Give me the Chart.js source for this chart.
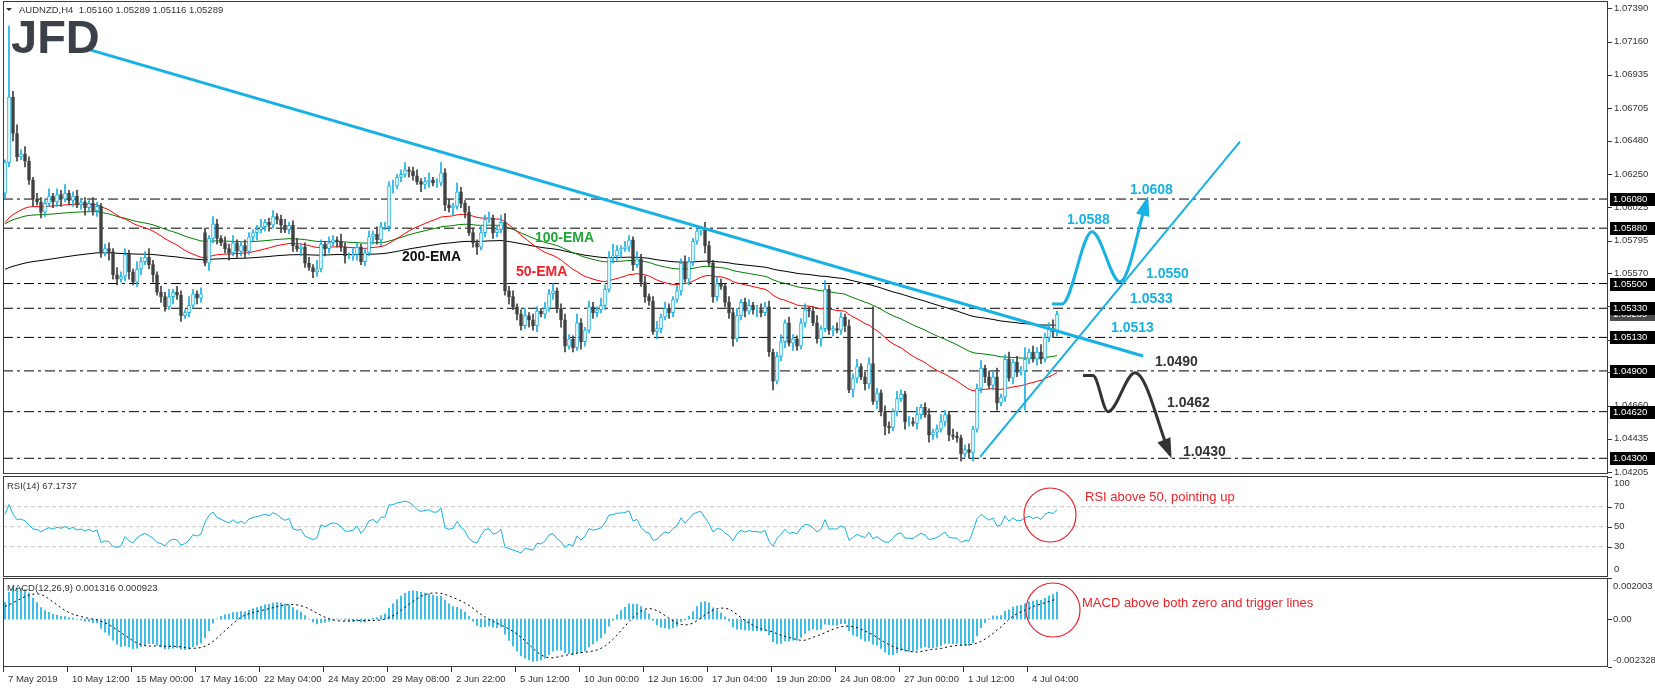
<!DOCTYPE html>
<html><head><meta charset="utf-8">
<script src="https://cdn.jsdelivr.net/npm/chart.js@4/dist/chart.umd.min.js"></script>
<style>
html,body{margin:0;padding:0;background:#fff;width:1655px;height:688px;overflow:hidden}
canvas{position:absolute;left:0}
</style></head><body>
<canvas id="c1" width="1655" height="475" style="top:0"></canvas>
<canvas id="c2" width="1655" height="102" style="top:475px"></canvas>
<canvas id="c3" width="1655" height="111" style="top:577px"></canvas>
<script>
// ---------- DATA ----------
const firstOpen = 1.0612;
const gapOpens = {50: 1.0585};
const closes = [
1.0633,1.0678,1.0653,1.0637,1.0639,1.0634,1.0621,1.0608,1.0606,1.0599,
1.0605,1.0610,1.0606,1.0611,1.0608,1.0612,1.0607,1.0610,1.0604,1.0606,
1.0602,1.0605,1.0600,1.0603,1.0571,1.0574,1.0572,1.0556,1.0553,1.0555,
1.0570,1.0558,1.0551,1.0560,1.0565,1.0568,1.0563,1.0556,1.0544,1.0541,
1.0534,1.0541,1.0544,1.0542,1.0528,1.0530,1.0535,1.0543,1.0540,1.0543,
1.0564,1.0581,1.0591,1.0581,1.0578,1.0574,1.0571,1.0578,1.0572,1.0576,
1.0572,1.0582,1.0585,1.0587,1.0589,1.0592,1.0590,1.0596,1.0594,1.0590,
1.0587,1.0590,1.0576,1.0574,1.0575,1.0564,1.0561,1.0558,1.0560,1.0577,
1.0574,1.0578,1.0580,1.0579,1.0575,1.0569,1.0569,1.0570,1.0575,1.0565,
1.0571,1.0582,1.0584,1.0580,1.0589,1.0589,1.0617,1.0617,1.0623,1.0625,
1.0628,1.0627,1.0624,1.0620,1.0618,1.0620,1.0621,1.0619,1.0619,1.0626,
1.0604,1.0602,1.0603,1.0613,1.0605,1.0599,1.0585,1.0578,1.0575,1.0585,
1.0594,1.0595,1.0585,1.0587,1.0592,1.0545,1.0541,1.0534,1.0529,1.0521,
1.0528,1.0525,1.0521,1.0531,1.0529,1.0533,1.0543,1.0545,1.0533,1.0525,
1.0507,1.0512,1.0506,1.0523,1.0510,1.0518,1.0534,1.0530,1.0532,1.0535,
1.0546,1.0568,1.0569,1.0573,1.0574,1.0575,1.0580,1.0563,1.0567,1.0551,
1.0541,1.0538,1.0517,1.0519,1.0527,1.0533,1.0530,1.0539,1.0545,1.0564,
1.0553,1.0565,1.0579,1.0586,1.0588,1.0576,1.0564,1.0541,1.0550,1.0548,
1.0537,1.0530,1.0512,1.0528,1.0537,1.0531,1.0535,1.0532,1.0532,1.0530,
1.0534,1.0503,1.0483,1.0500,1.0510,1.0523,1.0509,1.0512,1.0507,1.0523,
1.0532,1.0531,1.0523,1.0512,1.0519,1.0546,1.0518,1.0519,1.0518,1.0527,
1.0521,1.0477,1.0485,1.0493,1.0486,1.0481,1.0495,1.0469,1.0475,1.0462,
1.0452,1.0451,1.0462,1.0471,1.0474,1.0455,1.0455,1.0454,1.0460,1.0465,
1.0460,1.0446,1.0448,1.0450,1.0455,1.0460,1.0446,1.0445,1.0444,1.0433,
1.0436,1.0434,1.0450,1.0478,1.0492,1.0486,1.0480,1.0486,1.0468,1.0472,
1.0498,1.0485,1.0496,1.0489,1.0490,1.0498,1.0503,1.0498,1.0503,1.0498,
1.0513,1.0519,1.0517,1.05289];
const upWickPips = [
2,49,4,6,3,5,3,2,4,3, 3,5,2,4,3,6,2,3,4,2, 3,2,4,3,2,3,4,2,5,3, 4,3,2,5,3,4,6,3,2,4,
3,5,2,4,3,2,6,3,2,4, 3,2,5,3,2,4,3,5,2,3, 4,3,2,3,5,2,3,4,2,3, 4,2,3,5,2,3,4,2,6,3,
2,4,3,2,5,3,2,4,3,2, 3,4,2,5,3,3,3,4,2,3, 5,2,3,4,2,3,5,2,3,7, 3,4,2,6,3,2,4,3,2,5,
3,4,2,3,5,6,3,4,2,3, 5,2,4,3,2,4,3,5,2,3, 4,3,2,6,3,2,4,3,2,5, 3,4,8,3,2,4,3,2,5,3,
4,2,3,5,2,4,3,2,4,3, 5,3,2,3,1,4,3,2,5,3, 2,4,3,5,2,3,4,2,3,4, 3,4,2,3,5,2,4,3,2,3,
4,2,3,5,2,6,3,2,4,3, 2,4,3,5,2,3,4,39,3,2, 4,3,2,5,3,2,4,3,5,2, 3,4,2,3,5,3,2,4,3,2,
3,4,2,3,5,2,4,3,6,2, 3,5,2,4,3,8,2,4,3,5, 3,4,6,2];
const dnWickPips = [
4,3,5,3,2,4,3,5,2,4, 3,2,4,3,5,2,3,4,2,3, 5,2,3,4,3,2,6,3,4,2, 3,5,2,3,4,2,3,5,2,4,
3,2,5,3,4,2,3,2,4,3, 2,5,3,4,2,3,5,2,4,3, 4,2,3,5,2,3,4,2,3,5, 2,3,4,2,5,3,2,4,3,2,
5,3,2,4,3,5,2,3,4,2, 3,2,5,3,4,2,3,5,2,3, 2,4,3,2,5,3,4,2,3,2, 4,3,5,2,3,4,2,3,5,2,
3,2,4,3,2,3,5,2,4,3, 2,5,3,4,2,3,2,4,3,5, 4,2,3,2,5,3,2,4,3,2, 3,2,4,3,5,2,3,4,2,3,
4,3,2,5,3,2,4,3,2,3, 2,4,3,2,3,5,2,4,3,2, 3,4,5,2,3,4,2,3,5,3, 2,3,6,2,3,4,2,5,3,2,
3,4,2,3,5,2,3,4,2,3, 4,2,5,3,2,4,3,2,5,3, 6,4,2,3,2,5,3,2,4,3, 2,5,3,4,2,3,4,2,3,5,
2,4,6,2,3,4,2,3,5,2, 3,2,4,3,2,27,3,2,4,3, 2,3,4,3];
const dateLabels = ['7 May 2019','10 May 12:00','15 May 00:00','17 May 16:00','22 May 04:00','24 May 20:00','29 May 08:00','2 Jun 22:00','5 Jun 12:00','10 Jun 00:00','12 Jun 16:00','17 Jun 04:00','19 Jun 20:00','24 Jun 08:00','27 Jun 00:00','1 Jul 12:00','4 Jul 04:00'];
const dateLabelBars = [0,16,32,48,64,80,96,112,128,144,160,176,192,208,224,240,256];
const priceTicks = ['1.07390','1.07160','1.06935','1.06705','1.06480','1.06250','1.06025','1.05795','1.05570','1.05345','1.05115','1.04890','1.04660','1.04435','1.04205'];
const levels = [1.0608,1.0588,1.0550,1.0533,1.0513,1.0490,1.0462,1.0430];
const levelLabels = ['1.06080','1.05880','1.05500','1.05330','1.05130','1.04900','1.04620','1.04300'];
const lastPrice = 1.05289;
const rsiTicks = [100,70,50,30,0];
const macdTicks = ['0.002003','0.00','-0.002328'];
const macdTickValues = [0.002003,0,-0.002328];
// indicator seeds (history before the visible window)
const emaSeeds = {ema50:1.0590, ema100:1.0590, ema200:1.0559};
const rsiSeed = {gain:0.0005, loss:0.0004};
const macdSeed = {fast:1.0602, slow:1.0596, macd:0.0006};
// drawn analysis lines (bar index, price)
const downTrendX = [21.25, 284.5], downTrendY = [1.07104, 1.05002];
const upTrendX = [243.75, 308.75], upTrendY = [1.04310, 1.06474];
const bullPathX = [261.75,264.25,271.75,278.75,285.5], bullPathY = [1.05360,1.05360,1.05855,1.05512,1.06075];
const bearPathX = [269.5,272,275.75,282.5,291.25], bearPathY = [1.04868,1.04868,1.04620,1.04888,1.04325];

// ---------- DERIVED ----------
const N = closes.length;
const opens = closes.map((c,i)=> gapOpens[i]!==undefined ? gapOpens[i] : (i===0?firstOpen:closes[i-1]));
const highs = closes.map((c,i)=>Math.max(c,opens[i])+upWickPips[i]*0.0001);
const lows = closes.map((c,i)=>Math.min(c,opens[i])-dnWickPips[i]*0.0001);
function ema(vals,p,seed){const k=2/(p+1);let e=seed;return vals.map(v=>e=e+(v-e)*k);}
const e50=ema(closes,50,emaSeeds.ema50), e100=ema(closes,100,emaSeeds.ema100), e200=ema(closes,200,emaSeeds.ema200);
let ag=rsiSeed.gain, al=rsiSeed.loss, pv=firstOpen;
const rsi = closes.map(c=>{const d=c-pv;pv=c;ag=(ag*13+Math.max(d,0))/14;al=(al*13+Math.max(-d,0))/14;return 100-100/(1+ag/al);});
const ef=ema(closes,12,macdSeed.fast), es=ema(closes,26,macdSeed.slow);
const macd = ef.map((v,i)=>v-es[i]);
const hist=[...Array(8).fill(macdSeed.macd)];
const signal = macd.map(m=>{hist.push(m);const s=hist.slice(-9);return s.reduce((a,b)=>a+b,0)/9;});

const BLUE='#17b1e3', BEAR='#404040';
const XMIN=-0.5, XMAX=400.75;
const xs = {type:'linear',min:XMIN,max:XMAX,display:false,offset:false,bounds:'ticks'};
const pts=(ys)=>ys.map((y,i)=>({x:i,y}));
const pair=(X,Y)=>X.map((x,i)=>({x,y:Y[i]}));
const font=(s,b)=>(b?'bold ':'')+s+'px "Liberation Sans", Arial, sans-serif';

function frame(ctx,a){ctx.save();ctx.strokeStyle='#3a3a3a';ctx.lineWidth=1;ctx.strokeRect(Math.round(a.left)+0.5,Math.round(a.top)+0.5,Math.round(a.right-a.left)-1,Math.round(a.bottom-a.top)-1);ctx.restore();}
function axisLabel(ctx,a,y,txt){ctx.fillStyle='#333';ctx.fillRect(a.right,Math.round(y),4,1);ctx.font=font(9.5);ctx.textBaseline='middle';ctx.textAlign='left';ctx.fillText(txt,a.right+6,y);}
function arrow(ctx,x1,y1,x2,y2,color){const ang=Math.atan2(y2-y1,x2-x1),L=16,W=7;ctx.save();ctx.fillStyle=color;ctx.beginPath();ctx.moveTo(x2+Math.cos(ang)*4,y2+Math.sin(ang)*4);ctx.lineTo(x2-L*Math.cos(ang)+W*Math.sin(ang),y2-L*Math.sin(ang)-W*Math.cos(ang));ctx.lineTo(x2-L*Math.cos(ang)-W*Math.sin(ang),y2-L*Math.sin(ang)+W*Math.cos(ang));ctx.closePath();ctx.fill();ctx.restore();}

const common = {animation:false,responsive:false,devicePixelRatio:1,events:[],
  plugins:{legend:{display:false},tooltip:{enabled:false}}};

// ---------- MAIN PRICE CHART ----------
const levelSets = levels.map(l=>({type:'line',data:[{x:XMIN,y:l},{x:XMAX,y:l}],borderColor:'#000',borderWidth:1,borderDash:[10,4,3,4],pointRadius:0,order:5}));
new Chart(document.getElementById('c1'),{
  data:{datasets:[
    {type:'line',data:pair(downTrendX,downTrendY),borderColor:BLUE,borderWidth:3,pointRadius:0,order:0},
    {type:'line',data:pair(upTrendX,upTrendY),borderColor:BLUE,borderWidth:2,pointRadius:0,order:0},
    {type:'line',data:pair(bullPathX,bullPathY),borderColor:BLUE,borderWidth:3,pointRadius:0,cubicInterpolationMode:'monotone',order:0},
    {type:'line',data:pair(bearPathX,bearPathY),borderColor:'#333',borderWidth:3,pointRadius:0,cubicInterpolationMode:'monotone',order:0},
    {type:'bar',data:closes.map((c,i)=>({x:i,y:[opens[i],c]})),grouped:false,barThickness:3,borderSkipped:false,borderWidth:1,
      backgroundColor:closes.map((c,i)=>c>=opens[i]?'#fff':BEAR),borderColor:closes.map((c,i)=>c>=opens[i]?BLUE:BEAR),order:1},
    {type:'bar',data:closes.map((c,i)=>({x:i,y:[lows[i],highs[i]]})),grouped:false,barThickness:1,borderWidth:0,
      backgroundColor:closes.map((c,i)=>c>=opens[i]?BLUE:BEAR),order:2},
    {type:'line',data:pts(e50),borderColor:'#ff0000',borderWidth:1,pointRadius:0,order:3},
    {type:'line',data:pts(e100),borderColor:'#008000',borderWidth:1,pointRadius:0,order:3},
    {type:'line',data:pts(e200),borderColor:'#000',borderWidth:1,pointRadius:0,order:3},
    ...levelSets
  ]},
  options:{...common,layout:{padding:{left:3,right:47,top:1,bottom:1}},
    scales:{x:xs,y:{type:'linear',min:1.04192,max:1.07440,display:false}}},
  plugins:[{id:'main',afterDraw(ch){
    const ctx=ch.ctx,a=ch.chartArea,y=ch.scales.y,x=ch.scales.x;
    frame(ctx,a);
    ctx.save();
    priceTicks.forEach(t=>axisLabel(ctx,a,y.getPixelForValue(+t),t));
    ctx.font=font(9.5);ctx.textBaseline='middle';
    const box=(v,t,c)=>{const py=Math.round(y.getPixelForValue(v));ctx.fillStyle=c;ctx.fillRect(a.right+2,py-6,45,13);ctx.fillStyle='#fff';ctx.fillText(t,a.right+5,py+0.5);};
    box(lastPrice,lastPrice.toFixed(5),'#4a4a4a');
    levels.forEach((l,i)=>box(l,levelLabels[i],'#000'));
    ctx.fillStyle='#333';ctx.font=font(9.5);ctx.textAlign='left';
    ctx.beginPath();ctx.moveTo(6,8);ctx.lineTo(12,8);ctx.lineTo(9,11);ctx.closePath();ctx.fill();
    ctx.fillText('AUDNZD,H4  1.05160 1.05289 1.05116 1.05289',19,10.5);
    ctx.fillStyle='#3b4049';ctx.font=font(47,true);ctx.textBaseline='alphabetic';ctx.fillText('JFD',11,53);
    ctx.font=font(14,true);ctx.textBaseline='middle';
    ctx.fillStyle='#1fa637';ctx.fillText('100-EMA',535,238);
    ctx.fillStyle='#f0202a';ctx.fillText('50-EMA',516,272);
    ctx.fillStyle='#111';ctx.fillText('200-EMA',402,257);
    ctx.font=font(14,true);
    ctx.fillStyle=BLUE;
    [['1.0608',1130,190],['1.0588',1067,220],['1.0550',1146,274],['1.0533',1130,299],['1.0513',1111,328]].forEach(t=>ctx.fillText(t[0],t[1],t[2]));
    ctx.fillStyle='#333';
    [['1.0490',1155,362],['1.0462',1167,403],['1.0430',1183,452]].forEach(t=>ctx.fillText(t[0],t[1],t[2]));
    const P=(X,Y,i)=>[x.getPixelForValue(X[i]),y.getPixelForValue(Y[i])];
    const b1=P(bullPathX,bullPathY,4);
    arrow(ctx,b1[0]-6,b1[1]+22,b1[0],b1[1],BLUE);
    const k1=P(bearPathX,bearPathY,4);
    arrow(ctx,k1[0]-9,k1[1]-22,k1[0],k1[1],'#333');
    ctx.restore();
  }}]
});

// ---------- RSI ----------
new Chart(document.getElementById('c2'),{
  data:{datasets:[
    {type:'line',data:pts(rsi),borderColor:BLUE,borderWidth:1,pointRadius:0},
    ...[70,50,30].map(v=>({type:'line',data:[{x:XMIN,y:v},{x:XMAX,y:v}],borderColor:'#c4c4c4',borderWidth:1,borderDash:[4,3],pointRadius:0}))
  ]},
  options:{...common,layout:{padding:{left:3,right:47,top:1,bottom:0}},
    scales:{x:xs,y:{type:'linear',min:-0.3,max:100.7,display:false}}},
  plugins:[{id:'rsi',afterDraw(ch){
    const ctx=ch.ctx,a=ch.chartArea,y=ch.scales.y;
    frame(ctx,a);ctx.save();
    rsiTicks.forEach(t=>{const py=y.getPixelForValue(t);const ly=Math.min(Math.max(py,a.top+7),a.bottom-8);ctx.fillStyle='#333';ctx.fillRect(a.right,Math.round(py),4,1);ctx.font=font(9.5);ctx.textBaseline='middle';ctx.fillText(String(t),a.right+6,ly);});
    ctx.fillStyle='#333';ctx.font=font(9.5);ctx.textBaseline='middle';ctx.fillText('RSI(14) 67.1737',7,11);
    ctx.strokeStyle='#e8232b';ctx.lineWidth=1.2;ctx.beginPath();ctx.ellipse(1050,40,26,27,0,0,Math.PI*2);ctx.stroke();
    ctx.fillStyle='#e8232b';ctx.font=font(13);ctx.fillText('RSI above 50, pointing up',1085,22);
    ctx.restore();
  }}]
});

// ---------- MACD ----------
new Chart(document.getElementById('c3'),{
  data:{datasets:[
    {type:'line',data:pts(signal),borderColor:'#000',borderWidth:1,borderDash:[2,3],pointRadius:0},
    {type:'bar',data:macd.map((m,i)=>({x:i,y:m})),grouped:false,barThickness:1,backgroundColor:BLUE,borderWidth:0}
  ]},
  options:{...common,layout:{padding:{left:3,right:47,top:1,bottom:21}},
    scales:{x:xs,y:{type:'linear',min:-0.002328,max:0.002003,display:false}}},
  plugins:[{id:'macd',afterDraw(ch){
    const ctx=ch.ctx,a=ch.chartArea,y=ch.scales.y,x=ch.scales.x;
    frame(ctx,a);ctx.save();
    macdTickValues.forEach((v,i)=>{const py=y.getPixelForValue(v);const ly=Math.min(Math.max(py,a.top+8),a.bottom-7);ctx.fillStyle='#333';ctx.fillRect(a.right,Math.round(py),4,1);ctx.font=font(9.5);ctx.textBaseline='middle';ctx.fillText(macdTicks[i],a.right+5,ly);});
    ctx.fillStyle='#333';ctx.font=font(9.5);ctx.textBaseline='middle';ctx.fillText('MACD(12,26,9) 0.001316 0.000923',7,11);
    dateLabelBars.forEach((b,i)=>{const px=Math.round(x.getPixelForValue(b-0.5));ctx.fillStyle='#333';ctx.fillRect(px,a.bottom,1,5);ctx.textBaseline='middle';ctx.fillText(dateLabels[i],px+5,a.bottom+12);});
    ctx.strokeStyle='#e8232b';ctx.lineWidth=1.2;ctx.beginPath();ctx.ellipse(1053,33,27,27,0,0,Math.PI*2);ctx.stroke();
    ctx.fillStyle='#e8232b';ctx.font=font(13);ctx.fillText('MACD above both zero and trigger lines',1082,26);
    ctx.restore();
  }}]
});
</script></body></html>
